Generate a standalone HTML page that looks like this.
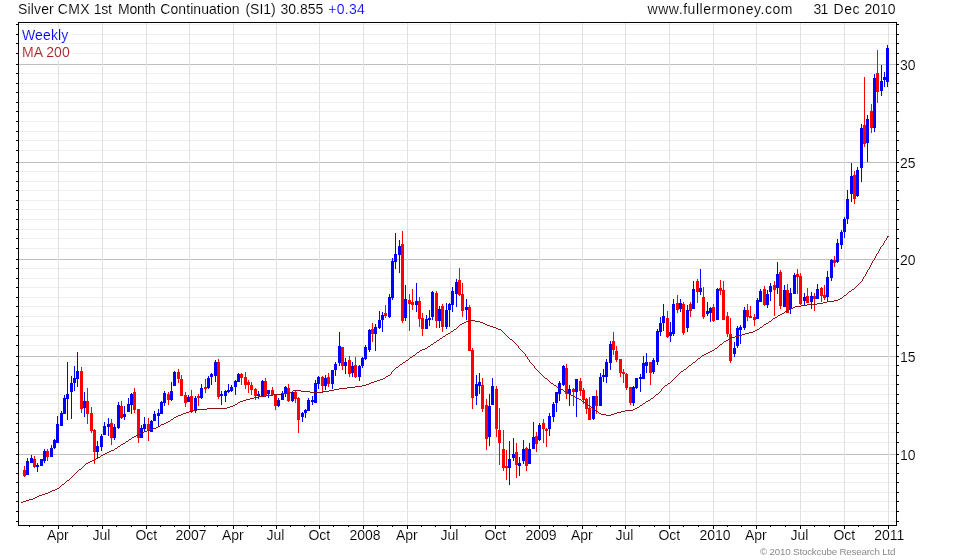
<!DOCTYPE html>
<html><head><meta charset="utf-8"><title>Silver CMX</title>
<style>html,body{margin:0;padding:0;background:#fff}body{width:980px;height:560px;overflow:hidden}</style></head>
<body>
<svg width="980" height="560" viewBox="0 0 980 560" style="display:block">
<defs><filter id="gs" x="0" y="0" width="100%" height="100%" filterUnits="userSpaceOnUse" color-interpolation-filters="sRGB"><feOffset dx="0" dy="0"/></filter></defs>
<rect width="980" height="560" fill="#fff"/>
<g shape-rendering="crispEdges">
<rect x="19" y="24" width="877" height="1" fill="#eeeeee"/>
<rect x="19" y="34" width="877" height="1" fill="#eeeeee"/>
<rect x="19" y="43" width="877" height="1" fill="#eeeeee"/>
<rect x="19" y="53" width="877" height="1" fill="#eeeeee"/>
<rect x="19" y="73" width="877" height="1" fill="#eeeeee"/>
<rect x="19" y="83" width="877" height="1" fill="#eeeeee"/>
<rect x="19" y="92" width="877" height="1" fill="#eeeeee"/>
<rect x="19" y="102" width="877" height="1" fill="#eeeeee"/>
<rect x="19" y="111" width="877" height="1" fill="#eeeeee"/>
<rect x="19" y="121" width="877" height="1" fill="#eeeeee"/>
<rect x="19" y="131" width="877" height="1" fill="#eeeeee"/>
<rect x="19" y="140" width="877" height="1" fill="#eeeeee"/>
<rect x="19" y="150" width="877" height="1" fill="#eeeeee"/>
<rect x="19" y="171" width="877" height="1" fill="#eeeeee"/>
<rect x="19" y="181" width="877" height="1" fill="#eeeeee"/>
<rect x="19" y="190" width="877" height="1" fill="#eeeeee"/>
<rect x="19" y="200" width="877" height="1" fill="#eeeeee"/>
<rect x="19" y="209" width="877" height="1" fill="#eeeeee"/>
<rect x="19" y="219" width="877" height="1" fill="#eeeeee"/>
<rect x="19" y="229" width="877" height="1" fill="#eeeeee"/>
<rect x="19" y="238" width="877" height="1" fill="#eeeeee"/>
<rect x="19" y="248" width="877" height="1" fill="#eeeeee"/>
<rect x="19" y="268" width="877" height="1" fill="#eeeeee"/>
<rect x="19" y="278" width="877" height="1" fill="#eeeeee"/>
<rect x="19" y="287" width="877" height="1" fill="#eeeeee"/>
<rect x="19" y="297" width="877" height="1" fill="#eeeeee"/>
<rect x="19" y="306" width="877" height="1" fill="#eeeeee"/>
<rect x="19" y="316" width="877" height="1" fill="#eeeeee"/>
<rect x="19" y="326" width="877" height="1" fill="#eeeeee"/>
<rect x="19" y="335" width="877" height="1" fill="#eeeeee"/>
<rect x="19" y="345" width="877" height="1" fill="#eeeeee"/>
<rect x="19" y="365" width="877" height="1" fill="#eeeeee"/>
<rect x="19" y="375" width="877" height="1" fill="#eeeeee"/>
<rect x="19" y="384" width="877" height="1" fill="#eeeeee"/>
<rect x="19" y="394" width="877" height="1" fill="#eeeeee"/>
<rect x="19" y="403" width="877" height="1" fill="#eeeeee"/>
<rect x="19" y="413" width="877" height="1" fill="#eeeeee"/>
<rect x="19" y="423" width="877" height="1" fill="#eeeeee"/>
<rect x="19" y="432" width="877" height="1" fill="#eeeeee"/>
<rect x="19" y="442" width="877" height="1" fill="#eeeeee"/>
<rect x="19" y="463" width="877" height="1" fill="#eeeeee"/>
<rect x="19" y="473" width="877" height="1" fill="#eeeeee"/>
<rect x="19" y="482" width="877" height="1" fill="#eeeeee"/>
<rect x="19" y="492" width="877" height="1" fill="#eeeeee"/>
<rect x="19" y="501" width="877" height="1" fill="#eeeeee"/>
<rect x="19" y="511" width="877" height="1" fill="#eeeeee"/>
<rect x="19" y="521" width="877" height="1" fill="#eeeeee"/>
<rect x="19" y="64" width="877" height="1" fill="#bebebe"/>
<rect x="19" y="162" width="877" height="1" fill="#bebebe"/>
<rect x="19" y="259" width="877" height="1" fill="#bebebe"/>
<rect x="19" y="356" width="877" height="1" fill="#bebebe"/>
<rect x="19" y="454" width="877" height="1" fill="#bebebe"/>
<rect x="58" y="23" width="1" height="502" fill="#e1e1e1"/>
<rect x="102" y="23" width="1" height="502" fill="#e1e1e1"/>
<rect x="146" y="23" width="1" height="502" fill="#e1e1e1"/>
<rect x="189" y="23" width="1" height="502" fill="#e1e1e1"/>
<rect x="233" y="23" width="1" height="502" fill="#e1e1e1"/>
<rect x="276" y="23" width="1" height="502" fill="#e1e1e1"/>
<rect x="319" y="23" width="1" height="502" fill="#e1e1e1"/>
<rect x="363" y="23" width="1" height="502" fill="#e1e1e1"/>
<rect x="407" y="23" width="1" height="502" fill="#e1e1e1"/>
<rect x="450" y="23" width="1" height="502" fill="#e1e1e1"/>
<rect x="495" y="23" width="1" height="502" fill="#e1e1e1"/>
<rect x="539" y="23" width="1" height="502" fill="#e1e1e1"/>
<rect x="582" y="23" width="1" height="502" fill="#e1e1e1"/>
<rect x="625" y="23" width="1" height="502" fill="#e1e1e1"/>
<rect x="669" y="23" width="1" height="502" fill="#e1e1e1"/>
<rect x="713" y="23" width="1" height="502" fill="#e1e1e1"/>
<rect x="756" y="23" width="1" height="502" fill="#e1e1e1"/>
<rect x="800" y="23" width="1" height="502" fill="#e1e1e1"/>
<rect x="844" y="23" width="1" height="502" fill="#e1e1e1"/>
<rect x="888" y="23" width="1" height="502" fill="#e1e1e1"/>
</g>
<rect x="19" y="28" width="52" height="15" fill="#fff"/>
<rect x="19" y="45" width="54" height="15" fill="#fff"/>
<g shape-rendering="crispEdges">
<rect x="24" y="466" width="1" height="11" fill="#ff0000"/>
<rect x="23" y="470" width="3" height="6" fill="#ff0000"/>
<rect x="27" y="458" width="1" height="17" fill="#0000ff"/>
<rect x="26" y="461" width="3" height="14" fill="#0000ff"/>
<rect x="31" y="455" width="1" height="8" fill="#0000ff"/>
<rect x="30" y="458" width="3" height="5" fill="#0000ff"/>
<rect x="34" y="456" width="1" height="12" fill="#ff0000"/>
<rect x="33" y="459" width="3" height="8" fill="#ff0000"/>
<rect x="37" y="463" width="1" height="9" fill="#0000ff"/>
<rect x="36" y="465" width="3" height="2" fill="#0000ff"/>
<rect x="41" y="459" width="1" height="7" fill="#0000ff"/>
<rect x="40" y="459" width="3" height="7" fill="#0000ff"/>
<rect x="44" y="449" width="1" height="14" fill="#0000ff"/>
<rect x="43" y="451" width="3" height="10" fill="#0000ff"/>
<rect x="47" y="449" width="1" height="12" fill="#ff0000"/>
<rect x="46" y="451" width="3" height="6" fill="#ff0000"/>
<rect x="51" y="445" width="1" height="12" fill="#0000ff"/>
<rect x="50" y="448" width="3" height="9" fill="#0000ff"/>
<rect x="54" y="439" width="1" height="10" fill="#0000ff"/>
<rect x="53" y="440" width="3" height="8" fill="#0000ff"/>
<rect x="57" y="416" width="1" height="27" fill="#0000ff"/>
<rect x="56" y="424" width="3" height="19" fill="#0000ff"/>
<rect x="61" y="411" width="1" height="15" fill="#0000ff"/>
<rect x="60" y="413" width="3" height="13" fill="#0000ff"/>
<rect x="64" y="395" width="1" height="19" fill="#0000ff"/>
<rect x="63" y="398" width="3" height="16" fill="#0000ff"/>
<rect x="67" y="362" width="1" height="58" fill="#0000ff"/>
<rect x="66" y="394" width="3" height="5" fill="#0000ff"/>
<rect x="71" y="376" width="1" height="43" fill="#0000ff"/>
<rect x="70" y="383" width="3" height="9" fill="#0000ff"/>
<rect x="74" y="366" width="1" height="25" fill="#0000ff"/>
<rect x="73" y="378" width="3" height="5" fill="#0000ff"/>
<rect x="77" y="352" width="1" height="35" fill="#0000ff"/>
<rect x="76" y="371" width="3" height="8" fill="#0000ff"/>
<rect x="81" y="367" width="1" height="46" fill="#ff0000"/>
<rect x="80" y="371" width="3" height="38" fill="#ff0000"/>
<rect x="84" y="392" width="1" height="25" fill="#0000ff"/>
<rect x="83" y="401" width="3" height="7" fill="#0000ff"/>
<rect x="87" y="388" width="1" height="36" fill="#ff0000"/>
<rect x="86" y="401" width="3" height="13" fill="#ff0000"/>
<rect x="91" y="407" width="1" height="26" fill="#ff0000"/>
<rect x="90" y="413" width="3" height="18" fill="#ff0000"/>
<rect x="94" y="429" width="1" height="35" fill="#ff0000"/>
<rect x="93" y="430" width="3" height="22" fill="#ff0000"/>
<rect x="97" y="441" width="1" height="17" fill="#0000ff"/>
<rect x="96" y="446" width="3" height="6" fill="#0000ff"/>
<rect x="101" y="434" width="1" height="17" fill="#0000ff"/>
<rect x="100" y="436" width="3" height="11" fill="#0000ff"/>
<rect x="104" y="422" width="1" height="13" fill="#0000ff"/>
<rect x="103" y="426" width="3" height="9" fill="#0000ff"/>
<rect x="108" y="418" width="1" height="18" fill="#0000ff"/>
<rect x="107" y="424" width="3" height="3" fill="#0000ff"/>
<rect x="111" y="419" width="1" height="26" fill="#ff0000"/>
<rect x="110" y="423" width="3" height="15" fill="#ff0000"/>
<rect x="114" y="424" width="1" height="16" fill="#0000ff"/>
<rect x="113" y="427" width="3" height="11" fill="#0000ff"/>
<rect x="118" y="402" width="1" height="27" fill="#0000ff"/>
<rect x="117" y="405" width="3" height="23" fill="#0000ff"/>
<rect x="121" y="401" width="1" height="18" fill="#ff0000"/>
<rect x="120" y="406" width="3" height="12" fill="#ff0000"/>
<rect x="124" y="406" width="1" height="14" fill="#0000ff"/>
<rect x="123" y="414" width="3" height="3" fill="#0000ff"/>
<rect x="128" y="398" width="1" height="14" fill="#0000ff"/>
<rect x="127" y="404" width="3" height="8" fill="#0000ff"/>
<rect x="131" y="393" width="1" height="21" fill="#0000ff"/>
<rect x="130" y="394" width="3" height="11" fill="#0000ff"/>
<rect x="134" y="388" width="1" height="25" fill="#ff0000"/>
<rect x="133" y="392" width="3" height="18" fill="#ff0000"/>
<rect x="138" y="409" width="1" height="34" fill="#ff0000"/>
<rect x="137" y="409" width="3" height="29" fill="#ff0000"/>
<rect x="141" y="425" width="1" height="13" fill="#0000ff"/>
<rect x="140" y="428" width="3" height="10" fill="#0000ff"/>
<rect x="144" y="417" width="1" height="15" fill="#0000ff"/>
<rect x="143" y="424" width="3" height="5" fill="#0000ff"/>
<rect x="148" y="418" width="1" height="23" fill="#ff0000"/>
<rect x="147" y="424" width="3" height="7" fill="#ff0000"/>
<rect x="151" y="420" width="1" height="12" fill="#0000ff"/>
<rect x="150" y="421" width="3" height="11" fill="#0000ff"/>
<rect x="154" y="411" width="1" height="10" fill="#0000ff"/>
<rect x="153" y="414" width="3" height="7" fill="#0000ff"/>
<rect x="158" y="409" width="1" height="18" fill="#0000ff"/>
<rect x="157" y="413" width="3" height="3" fill="#0000ff"/>
<rect x="161" y="401" width="1" height="13" fill="#0000ff"/>
<rect x="160" y="402" width="3" height="12" fill="#0000ff"/>
<rect x="164" y="391" width="1" height="15" fill="#0000ff"/>
<rect x="163" y="393" width="3" height="10" fill="#0000ff"/>
<rect x="168" y="392" width="1" height="13" fill="#ff0000"/>
<rect x="167" y="394" width="3" height="6" fill="#ff0000"/>
<rect x="171" y="382" width="1" height="19" fill="#0000ff"/>
<rect x="170" y="391" width="3" height="9" fill="#0000ff"/>
<rect x="174" y="371" width="1" height="15" fill="#0000ff"/>
<rect x="173" y="372" width="3" height="14" fill="#0000ff"/>
<rect x="178" y="369" width="1" height="14" fill="#ff0000"/>
<rect x="177" y="372" width="3" height="7" fill="#ff0000"/>
<rect x="181" y="375" width="1" height="21" fill="#ff0000"/>
<rect x="180" y="379" width="3" height="17" fill="#ff0000"/>
<rect x="185" y="392" width="1" height="15" fill="#ff0000"/>
<rect x="184" y="395" width="3" height="8" fill="#ff0000"/>
<rect x="188" y="395" width="1" height="7" fill="#0000ff"/>
<rect x="187" y="397" width="3" height="5" fill="#0000ff"/>
<rect x="191" y="390" width="1" height="23" fill="#ff0000"/>
<rect x="190" y="396" width="3" height="15" fill="#ff0000"/>
<rect x="195" y="396" width="1" height="17" fill="#0000ff"/>
<rect x="194" y="398" width="3" height="12" fill="#0000ff"/>
<rect x="198" y="394" width="1" height="12" fill="#ff0000"/>
<rect x="197" y="396" width="3" height="2" fill="#ff0000"/>
<rect x="201" y="384" width="1" height="15" fill="#0000ff"/>
<rect x="200" y="388" width="3" height="10" fill="#0000ff"/>
<rect x="205" y="379" width="1" height="14" fill="#ff0000"/>
<rect x="204" y="387" width="3" height="2" fill="#ff0000"/>
<rect x="208" y="376" width="1" height="13" fill="#0000ff"/>
<rect x="207" y="378" width="3" height="10" fill="#0000ff"/>
<rect x="211" y="373" width="1" height="12" fill="#0000ff"/>
<rect x="210" y="374" width="3" height="3" fill="#0000ff"/>
<rect x="215" y="360" width="1" height="22" fill="#0000ff"/>
<rect x="214" y="362" width="3" height="14" fill="#0000ff"/>
<rect x="218" y="359" width="1" height="40" fill="#ff0000"/>
<rect x="217" y="362" width="3" height="35" fill="#ff0000"/>
<rect x="221" y="391" width="1" height="14" fill="#0000ff"/>
<rect x="220" y="394" width="3" height="2" fill="#0000ff"/>
<rect x="225" y="390" width="1" height="12" fill="#0000ff"/>
<rect x="224" y="391" width="3" height="5" fill="#0000ff"/>
<rect x="228" y="384" width="1" height="9" fill="#0000ff"/>
<rect x="227" y="390" width="3" height="2" fill="#0000ff"/>
<rect x="231" y="385" width="1" height="7" fill="#0000ff"/>
<rect x="230" y="387" width="3" height="4" fill="#0000ff"/>
<rect x="235" y="380" width="1" height="15" fill="#0000ff"/>
<rect x="234" y="381" width="3" height="6" fill="#0000ff"/>
<rect x="238" y="373" width="1" height="9" fill="#0000ff"/>
<rect x="237" y="374" width="3" height="8" fill="#0000ff"/>
<rect x="241" y="373" width="1" height="12" fill="#ff0000"/>
<rect x="240" y="374" width="3" height="4" fill="#ff0000"/>
<rect x="245" y="372" width="1" height="17" fill="#ff0000"/>
<rect x="244" y="377" width="3" height="8" fill="#ff0000"/>
<rect x="248" y="380" width="1" height="13" fill="#ff0000"/>
<rect x="247" y="382" width="3" height="3" fill="#ff0000"/>
<rect x="251" y="382" width="1" height="13" fill="#ff0000"/>
<rect x="250" y="385" width="3" height="5" fill="#ff0000"/>
<rect x="255" y="388" width="1" height="12" fill="#ff0000"/>
<rect x="254" y="389" width="3" height="7" fill="#ff0000"/>
<rect x="258" y="391" width="1" height="8" fill="#0000ff"/>
<rect x="257" y="394" width="3" height="2" fill="#0000ff"/>
<rect x="262" y="380" width="1" height="16" fill="#0000ff"/>
<rect x="261" y="381" width="3" height="15" fill="#0000ff"/>
<rect x="265" y="378" width="1" height="18" fill="#ff0000"/>
<rect x="264" y="381" width="3" height="15" fill="#ff0000"/>
<rect x="268" y="390" width="1" height="8" fill="#0000ff"/>
<rect x="267" y="390" width="3" height="4" fill="#0000ff"/>
<rect x="272" y="387" width="1" height="9" fill="#ff0000"/>
<rect x="271" y="390" width="3" height="5" fill="#ff0000"/>
<rect x="275" y="394" width="1" height="16" fill="#ff0000"/>
<rect x="274" y="395" width="3" height="11" fill="#ff0000"/>
<rect x="278" y="398" width="1" height="9" fill="#0000ff"/>
<rect x="277" y="400" width="3" height="6" fill="#0000ff"/>
<rect x="282" y="391" width="1" height="9" fill="#0000ff"/>
<rect x="281" y="393" width="3" height="7" fill="#0000ff"/>
<rect x="285" y="386" width="1" height="11" fill="#0000ff"/>
<rect x="284" y="387" width="3" height="6" fill="#0000ff"/>
<rect x="288" y="384" width="1" height="18" fill="#ff0000"/>
<rect x="287" y="388" width="3" height="13" fill="#ff0000"/>
<rect x="292" y="391" width="1" height="11" fill="#0000ff"/>
<rect x="291" y="392" width="3" height="9" fill="#0000ff"/>
<rect x="295" y="391" width="1" height="12" fill="#ff0000"/>
<rect x="294" y="392" width="3" height="7" fill="#ff0000"/>
<rect x="298" y="397" width="1" height="36" fill="#ff0000"/>
<rect x="297" y="398" width="3" height="22" fill="#ff0000"/>
<rect x="302" y="412" width="1" height="10" fill="#0000ff"/>
<rect x="301" y="413" width="3" height="4" fill="#0000ff"/>
<rect x="305" y="409" width="1" height="9" fill="#0000ff"/>
<rect x="304" y="410" width="3" height="3" fill="#0000ff"/>
<rect x="308" y="398" width="1" height="13" fill="#0000ff"/>
<rect x="307" y="400" width="3" height="11" fill="#0000ff"/>
<rect x="312" y="396" width="1" height="9" fill="#0000ff"/>
<rect x="311" y="400" width="3" height="2" fill="#0000ff"/>
<rect x="315" y="380" width="1" height="23" fill="#0000ff"/>
<rect x="314" y="383" width="3" height="20" fill="#0000ff"/>
<rect x="318" y="376" width="1" height="13" fill="#0000ff"/>
<rect x="317" y="377" width="3" height="7" fill="#0000ff"/>
<rect x="322" y="376" width="1" height="16" fill="#ff0000"/>
<rect x="321" y="377" width="3" height="9" fill="#ff0000"/>
<rect x="325" y="375" width="1" height="15" fill="#0000ff"/>
<rect x="324" y="378" width="3" height="8" fill="#0000ff"/>
<rect x="328" y="373" width="1" height="14" fill="#ff0000"/>
<rect x="327" y="377" width="3" height="7" fill="#ff0000"/>
<rect x="332" y="370" width="1" height="19" fill="#0000ff"/>
<rect x="331" y="370" width="3" height="14" fill="#0000ff"/>
<rect x="335" y="362" width="1" height="14" fill="#0000ff"/>
<rect x="334" y="364" width="3" height="6" fill="#0000ff"/>
<rect x="339" y="332" width="1" height="34" fill="#0000ff"/>
<rect x="338" y="346" width="3" height="17" fill="#0000ff"/>
<rect x="342" y="347" width="1" height="23" fill="#ff0000"/>
<rect x="341" y="347" width="3" height="19" fill="#ff0000"/>
<rect x="345" y="358" width="1" height="16" fill="#0000ff"/>
<rect x="344" y="362" width="3" height="4" fill="#0000ff"/>
<rect x="349" y="356" width="1" height="21" fill="#ff0000"/>
<rect x="348" y="360" width="3" height="14" fill="#ff0000"/>
<rect x="352" y="362" width="1" height="15" fill="#0000ff"/>
<rect x="351" y="366" width="3" height="7" fill="#0000ff"/>
<rect x="355" y="357" width="1" height="21" fill="#ff0000"/>
<rect x="354" y="365" width="3" height="12" fill="#ff0000"/>
<rect x="359" y="365" width="1" height="16" fill="#0000ff"/>
<rect x="358" y="366" width="3" height="11" fill="#0000ff"/>
<rect x="362" y="357" width="1" height="11" fill="#0000ff"/>
<rect x="361" y="358" width="3" height="8" fill="#0000ff"/>
<rect x="365" y="345" width="1" height="15" fill="#0000ff"/>
<rect x="364" y="347" width="3" height="12" fill="#0000ff"/>
<rect x="369" y="329" width="1" height="23" fill="#0000ff"/>
<rect x="368" y="330" width="3" height="20" fill="#0000ff"/>
<rect x="372" y="323" width="1" height="19" fill="#ff0000"/>
<rect x="371" y="329" width="3" height="5" fill="#ff0000"/>
<rect x="375" y="324" width="1" height="27" fill="#0000ff"/>
<rect x="374" y="327" width="3" height="7" fill="#0000ff"/>
<rect x="379" y="311" width="1" height="18" fill="#0000ff"/>
<rect x="378" y="320" width="3" height="8" fill="#0000ff"/>
<rect x="382" y="312" width="1" height="20" fill="#0000ff"/>
<rect x="381" y="315" width="3" height="5" fill="#0000ff"/>
<rect x="385" y="305" width="1" height="13" fill="#ff0000"/>
<rect x="384" y="313" width="3" height="3" fill="#ff0000"/>
<rect x="389" y="294" width="1" height="24" fill="#0000ff"/>
<rect x="388" y="297" width="3" height="20" fill="#0000ff"/>
<rect x="392" y="258" width="1" height="42" fill="#0000ff"/>
<rect x="391" y="261" width="3" height="37" fill="#0000ff"/>
<rect x="395" y="233" width="1" height="36" fill="#0000ff"/>
<rect x="394" y="254" width="3" height="8" fill="#0000ff"/>
<rect x="399" y="240" width="1" height="33" fill="#0000ff"/>
<rect x="398" y="246" width="3" height="9" fill="#0000ff"/>
<rect x="402" y="231" width="1" height="92" fill="#ff0000"/>
<rect x="401" y="244" width="3" height="77" fill="#ff0000"/>
<rect x="405" y="285" width="1" height="36" fill="#0000ff"/>
<rect x="404" y="299" width="3" height="19" fill="#0000ff"/>
<rect x="409" y="294" width="1" height="37" fill="#ff0000"/>
<rect x="408" y="300" width="3" height="4" fill="#ff0000"/>
<rect x="412" y="289" width="1" height="21" fill="#ff0000"/>
<rect x="411" y="302" width="3" height="3" fill="#ff0000"/>
<rect x="416" y="283" width="1" height="29" fill="#0000ff"/>
<rect x="415" y="301" width="3" height="4" fill="#0000ff"/>
<rect x="419" y="297" width="1" height="30" fill="#ff0000"/>
<rect x="418" y="301" width="3" height="18" fill="#ff0000"/>
<rect x="422" y="313" width="1" height="23" fill="#ff0000"/>
<rect x="421" y="318" width="3" height="11" fill="#ff0000"/>
<rect x="426" y="315" width="1" height="14" fill="#0000ff"/>
<rect x="425" y="319" width="3" height="10" fill="#0000ff"/>
<rect x="429" y="310" width="1" height="16" fill="#0000ff"/>
<rect x="428" y="318" width="3" height="2" fill="#0000ff"/>
<rect x="432" y="291" width="1" height="29" fill="#0000ff"/>
<rect x="431" y="292" width="3" height="25" fill="#0000ff"/>
<rect x="436" y="291" width="1" height="37" fill="#ff0000"/>
<rect x="435" y="293" width="3" height="28" fill="#ff0000"/>
<rect x="439" y="306" width="1" height="22" fill="#0000ff"/>
<rect x="438" y="309" width="3" height="12" fill="#0000ff"/>
<rect x="442" y="304" width="1" height="28" fill="#ff0000"/>
<rect x="441" y="306" width="3" height="21" fill="#ff0000"/>
<rect x="446" y="303" width="1" height="26" fill="#0000ff"/>
<rect x="445" y="310" width="3" height="17" fill="#0000ff"/>
<rect x="449" y="303" width="1" height="24" fill="#0000ff"/>
<rect x="448" y="304" width="3" height="6" fill="#0000ff"/>
<rect x="452" y="287" width="1" height="25" fill="#0000ff"/>
<rect x="451" y="291" width="3" height="14" fill="#0000ff"/>
<rect x="456" y="279" width="1" height="28" fill="#0000ff"/>
<rect x="455" y="282" width="3" height="12" fill="#0000ff"/>
<rect x="459" y="268" width="1" height="28" fill="#ff0000"/>
<rect x="458" y="280" width="3" height="15" fill="#ff0000"/>
<rect x="462" y="283" width="1" height="34" fill="#ff0000"/>
<rect x="461" y="294" width="3" height="17" fill="#ff0000"/>
<rect x="466" y="299" width="1" height="21" fill="#0000ff"/>
<rect x="465" y="307" width="3" height="3" fill="#0000ff"/>
<rect x="469" y="305" width="1" height="46" fill="#ff0000"/>
<rect x="468" y="307" width="3" height="44" fill="#ff0000"/>
<rect x="472" y="348" width="1" height="61" fill="#ff0000"/>
<rect x="471" y="350" width="3" height="48" fill="#ff0000"/>
<rect x="476" y="375" width="1" height="30" fill="#0000ff"/>
<rect x="475" y="384" width="3" height="12" fill="#0000ff"/>
<rect x="479" y="373" width="1" height="21" fill="#0000ff"/>
<rect x="478" y="382" width="3" height="4" fill="#0000ff"/>
<rect x="482" y="378" width="1" height="34" fill="#ff0000"/>
<rect x="481" y="385" width="3" height="24" fill="#ff0000"/>
<rect x="486" y="399" width="1" height="51" fill="#ff0000"/>
<rect x="485" y="405" width="3" height="34" fill="#ff0000"/>
<rect x="489" y="394" width="1" height="52" fill="#0000ff"/>
<rect x="488" y="406" width="3" height="31" fill="#0000ff"/>
<rect x="492" y="378" width="1" height="27" fill="#0000ff"/>
<rect x="491" y="386" width="3" height="19" fill="#0000ff"/>
<rect x="496" y="386" width="1" height="51" fill="#ff0000"/>
<rect x="495" y="389" width="3" height="40" fill="#ff0000"/>
<rect x="499" y="408" width="1" height="57" fill="#ff0000"/>
<rect x="498" y="430" width="3" height="13" fill="#ff0000"/>
<rect x="503" y="430" width="1" height="41" fill="#ff0000"/>
<rect x="502" y="449" width="3" height="19" fill="#ff0000"/>
<rect x="506" y="450" width="1" height="30" fill="#ff0000"/>
<rect x="505" y="466" width="3" height="2" fill="#ff0000"/>
<rect x="509" y="441" width="1" height="44" fill="#0000ff"/>
<rect x="508" y="459" width="3" height="9" fill="#0000ff"/>
<rect x="513" y="438" width="1" height="23" fill="#0000ff"/>
<rect x="512" y="454" width="3" height="4" fill="#0000ff"/>
<rect x="516" y="443" width="1" height="35" fill="#ff0000"/>
<rect x="515" y="452" width="3" height="13" fill="#ff0000"/>
<rect x="519" y="457" width="1" height="19" fill="#0000ff"/>
<rect x="518" y="463" width="3" height="3" fill="#0000ff"/>
<rect x="523" y="440" width="1" height="24" fill="#0000ff"/>
<rect x="522" y="449" width="3" height="12" fill="#0000ff"/>
<rect x="526" y="447" width="1" height="24" fill="#ff0000"/>
<rect x="525" y="448" width="3" height="18" fill="#ff0000"/>
<rect x="529" y="443" width="1" height="21" fill="#0000ff"/>
<rect x="528" y="449" width="3" height="15" fill="#0000ff"/>
<rect x="533" y="422" width="1" height="27" fill="#0000ff"/>
<rect x="532" y="437" width="3" height="12" fill="#0000ff"/>
<rect x="536" y="432" width="1" height="20" fill="#ff0000"/>
<rect x="535" y="436" width="3" height="8" fill="#ff0000"/>
<rect x="539" y="423" width="1" height="18" fill="#0000ff"/>
<rect x="538" y="425" width="3" height="15" fill="#0000ff"/>
<rect x="543" y="419" width="1" height="24" fill="#ff0000"/>
<rect x="542" y="423" width="3" height="6" fill="#ff0000"/>
<rect x="546" y="428" width="1" height="19" fill="#ff0000"/>
<rect x="545" y="429" width="3" height="2" fill="#ff0000"/>
<rect x="549" y="413" width="1" height="23" fill="#0000ff"/>
<rect x="548" y="416" width="3" height="13" fill="#0000ff"/>
<rect x="553" y="402" width="1" height="20" fill="#0000ff"/>
<rect x="552" y="404" width="3" height="13" fill="#0000ff"/>
<rect x="556" y="392" width="1" height="20" fill="#0000ff"/>
<rect x="555" y="392" width="3" height="11" fill="#0000ff"/>
<rect x="559" y="381" width="1" height="20" fill="#0000ff"/>
<rect x="558" y="383" width="3" height="11" fill="#0000ff"/>
<rect x="563" y="365" width="1" height="21" fill="#0000ff"/>
<rect x="562" y="366" width="3" height="19" fill="#0000ff"/>
<rect x="566" y="364" width="1" height="35" fill="#ff0000"/>
<rect x="565" y="368" width="3" height="26" fill="#ff0000"/>
<rect x="569" y="385" width="1" height="21" fill="#0000ff"/>
<rect x="568" y="389" width="3" height="5" fill="#0000ff"/>
<rect x="573" y="388" width="1" height="18" fill="#ff0000"/>
<rect x="572" y="389" width="3" height="3" fill="#ff0000"/>
<rect x="576" y="379" width="1" height="38" fill="#0000ff"/>
<rect x="575" y="379" width="3" height="13" fill="#0000ff"/>
<rect x="580" y="378" width="1" height="18" fill="#ff0000"/>
<rect x="579" y="381" width="3" height="10" fill="#ff0000"/>
<rect x="583" y="388" width="1" height="16" fill="#ff0000"/>
<rect x="582" y="390" width="3" height="10" fill="#ff0000"/>
<rect x="586" y="398" width="1" height="16" fill="#ff0000"/>
<rect x="585" y="399" width="3" height="10" fill="#ff0000"/>
<rect x="589" y="397" width="1" height="23" fill="#ff0000"/>
<rect x="588" y="408" width="3" height="12" fill="#ff0000"/>
<rect x="593" y="396" width="1" height="24" fill="#0000ff"/>
<rect x="592" y="396" width="3" height="23" fill="#0000ff"/>
<rect x="596" y="390" width="1" height="24" fill="#ff0000"/>
<rect x="595" y="396" width="3" height="10" fill="#ff0000"/>
<rect x="600" y="373" width="1" height="33" fill="#0000ff"/>
<rect x="599" y="377" width="3" height="29" fill="#0000ff"/>
<rect x="603" y="369" width="1" height="13" fill="#0000ff"/>
<rect x="602" y="375" width="3" height="2" fill="#0000ff"/>
<rect x="606" y="359" width="1" height="24" fill="#0000ff"/>
<rect x="605" y="362" width="3" height="15" fill="#0000ff"/>
<rect x="610" y="341" width="1" height="29" fill="#0000ff"/>
<rect x="609" y="344" width="3" height="19" fill="#0000ff"/>
<rect x="613" y="332" width="1" height="23" fill="#ff0000"/>
<rect x="612" y="341" width="3" height="9" fill="#ff0000"/>
<rect x="616" y="346" width="1" height="16" fill="#ff0000"/>
<rect x="615" y="351" width="3" height="9" fill="#ff0000"/>
<rect x="620" y="359" width="1" height="18" fill="#ff0000"/>
<rect x="619" y="359" width="3" height="14" fill="#ff0000"/>
<rect x="623" y="369" width="1" height="14" fill="#ff0000"/>
<rect x="622" y="372" width="3" height="2" fill="#ff0000"/>
<rect x="626" y="373" width="1" height="17" fill="#ff0000"/>
<rect x="625" y="374" width="3" height="14" fill="#ff0000"/>
<rect x="630" y="387" width="1" height="18" fill="#ff0000"/>
<rect x="629" y="387" width="3" height="16" fill="#ff0000"/>
<rect x="633" y="386" width="1" height="20" fill="#0000ff"/>
<rect x="632" y="387" width="3" height="16" fill="#0000ff"/>
<rect x="636" y="378" width="1" height="11" fill="#0000ff"/>
<rect x="635" y="378" width="3" height="10" fill="#0000ff"/>
<rect x="640" y="374" width="1" height="18" fill="#0000ff"/>
<rect x="639" y="377" width="3" height="2" fill="#0000ff"/>
<rect x="643" y="356" width="1" height="23" fill="#0000ff"/>
<rect x="642" y="363" width="3" height="16" fill="#0000ff"/>
<rect x="646" y="353" width="1" height="20" fill="#0000ff"/>
<rect x="645" y="362" width="3" height="4" fill="#0000ff"/>
<rect x="650" y="362" width="1" height="23" fill="#ff0000"/>
<rect x="649" y="362" width="3" height="11" fill="#ff0000"/>
<rect x="653" y="358" width="1" height="16" fill="#0000ff"/>
<rect x="652" y="360" width="3" height="12" fill="#0000ff"/>
<rect x="657" y="329" width="1" height="36" fill="#0000ff"/>
<rect x="656" y="331" width="3" height="31" fill="#0000ff"/>
<rect x="660" y="317" width="1" height="19" fill="#0000ff"/>
<rect x="659" y="323" width="3" height="9" fill="#0000ff"/>
<rect x="663" y="304" width="1" height="27" fill="#0000ff"/>
<rect x="662" y="316" width="3" height="7" fill="#0000ff"/>
<rect x="667" y="311" width="1" height="27" fill="#ff0000"/>
<rect x="666" y="318" width="3" height="19" fill="#ff0000"/>
<rect x="670" y="322" width="1" height="20" fill="#0000ff"/>
<rect x="669" y="332" width="3" height="4" fill="#0000ff"/>
<rect x="673" y="299" width="1" height="37" fill="#0000ff"/>
<rect x="672" y="304" width="3" height="30" fill="#0000ff"/>
<rect x="677" y="295" width="1" height="18" fill="#ff0000"/>
<rect x="676" y="303" width="3" height="7" fill="#ff0000"/>
<rect x="680" y="299" width="1" height="13" fill="#0000ff"/>
<rect x="679" y="303" width="3" height="6" fill="#0000ff"/>
<rect x="683" y="302" width="1" height="33" fill="#ff0000"/>
<rect x="682" y="304" width="3" height="29" fill="#ff0000"/>
<rect x="687" y="305" width="1" height="27" fill="#0000ff"/>
<rect x="686" y="310" width="3" height="18" fill="#0000ff"/>
<rect x="690" y="302" width="1" height="15" fill="#ff0000"/>
<rect x="689" y="304" width="3" height="7" fill="#ff0000"/>
<rect x="693" y="281" width="1" height="28" fill="#0000ff"/>
<rect x="692" y="289" width="3" height="20" fill="#0000ff"/>
<rect x="697" y="279" width="1" height="24" fill="#ff0000"/>
<rect x="696" y="281" width="3" height="11" fill="#ff0000"/>
<rect x="700" y="269" width="1" height="26" fill="#0000ff"/>
<rect x="699" y="288" width="3" height="4" fill="#0000ff"/>
<rect x="703" y="287" width="1" height="32" fill="#ff0000"/>
<rect x="702" y="297" width="3" height="20" fill="#ff0000"/>
<rect x="707" y="302" width="1" height="14" fill="#0000ff"/>
<rect x="706" y="311" width="3" height="3" fill="#0000ff"/>
<rect x="710" y="307" width="1" height="15" fill="#0000ff"/>
<rect x="709" y="308" width="3" height="5" fill="#0000ff"/>
<rect x="713" y="304" width="1" height="18" fill="#ff0000"/>
<rect x="712" y="307" width="3" height="14" fill="#ff0000"/>
<rect x="717" y="288" width="1" height="32" fill="#0000ff"/>
<rect x="716" y="289" width="3" height="31" fill="#0000ff"/>
<rect x="720" y="280" width="1" height="15" fill="#ff0000"/>
<rect x="719" y="288" width="3" height="3" fill="#ff0000"/>
<rect x="723" y="281" width="1" height="39" fill="#ff0000"/>
<rect x="722" y="290" width="3" height="30" fill="#ff0000"/>
<rect x="727" y="312" width="1" height="25" fill="#ff0000"/>
<rect x="726" y="316" width="3" height="18" fill="#ff0000"/>
<rect x="730" y="318" width="1" height="45" fill="#ff0000"/>
<rect x="729" y="334" width="3" height="27" fill="#ff0000"/>
<rect x="734" y="342" width="1" height="15" fill="#0000ff"/>
<rect x="733" y="348" width="3" height="6" fill="#0000ff"/>
<rect x="737" y="326" width="1" height="22" fill="#0000ff"/>
<rect x="736" y="328" width="3" height="18" fill="#0000ff"/>
<rect x="740" y="325" width="1" height="19" fill="#0000ff"/>
<rect x="739" y="327" width="3" height="3" fill="#0000ff"/>
<rect x="744" y="307" width="1" height="23" fill="#0000ff"/>
<rect x="743" y="310" width="3" height="18" fill="#0000ff"/>
<rect x="747" y="304" width="1" height="17" fill="#ff0000"/>
<rect x="746" y="310" width="3" height="7" fill="#ff0000"/>
<rect x="750" y="306" width="1" height="12" fill="#ff0000"/>
<rect x="749" y="316" width="3" height="2" fill="#ff0000"/>
<rect x="754" y="314" width="1" height="12" fill="#ff0000"/>
<rect x="753" y="317" width="3" height="3" fill="#ff0000"/>
<rect x="757" y="298" width="1" height="21" fill="#0000ff"/>
<rect x="756" y="300" width="3" height="19" fill="#0000ff"/>
<rect x="760" y="289" width="1" height="13" fill="#0000ff"/>
<rect x="759" y="291" width="3" height="11" fill="#0000ff"/>
<rect x="764" y="286" width="1" height="20" fill="#ff0000"/>
<rect x="763" y="289" width="3" height="16" fill="#ff0000"/>
<rect x="767" y="290" width="1" height="18" fill="#0000ff"/>
<rect x="766" y="294" width="3" height="11" fill="#0000ff"/>
<rect x="770" y="283" width="1" height="18" fill="#0000ff"/>
<rect x="769" y="286" width="3" height="6" fill="#0000ff"/>
<rect x="774" y="281" width="1" height="35" fill="#ff0000"/>
<rect x="773" y="285" width="3" height="5" fill="#ff0000"/>
<rect x="777" y="262" width="1" height="32" fill="#0000ff"/>
<rect x="776" y="274" width="3" height="14" fill="#0000ff"/>
<rect x="780" y="270" width="1" height="39" fill="#ff0000"/>
<rect x="779" y="272" width="3" height="34" fill="#ff0000"/>
<rect x="784" y="285" width="1" height="22" fill="#0000ff"/>
<rect x="783" y="290" width="3" height="17" fill="#0000ff"/>
<rect x="787" y="284" width="1" height="29" fill="#ff0000"/>
<rect x="786" y="290" width="3" height="23" fill="#ff0000"/>
<rect x="790" y="288" width="1" height="26" fill="#0000ff"/>
<rect x="789" y="293" width="3" height="16" fill="#0000ff"/>
<rect x="794" y="273" width="1" height="21" fill="#0000ff"/>
<rect x="793" y="275" width="3" height="19" fill="#0000ff"/>
<rect x="797" y="269" width="1" height="25" fill="#ff0000"/>
<rect x="796" y="274" width="3" height="3" fill="#ff0000"/>
<rect x="800" y="273" width="1" height="32" fill="#ff0000"/>
<rect x="799" y="276" width="3" height="28" fill="#ff0000"/>
<rect x="804" y="293" width="1" height="12" fill="#0000ff"/>
<rect x="803" y="297" width="3" height="4" fill="#0000ff"/>
<rect x="807" y="288" width="1" height="15" fill="#ff0000"/>
<rect x="806" y="296" width="3" height="7" fill="#ff0000"/>
<rect x="811" y="292" width="1" height="17" fill="#0000ff"/>
<rect x="810" y="296" width="3" height="6" fill="#0000ff"/>
<rect x="814" y="293" width="1" height="18" fill="#ff0000"/>
<rect x="813" y="296" width="3" height="3" fill="#ff0000"/>
<rect x="817" y="284" width="1" height="15" fill="#0000ff"/>
<rect x="816" y="289" width="3" height="10" fill="#0000ff"/>
<rect x="821" y="287" width="1" height="15" fill="#ff0000"/>
<rect x="820" y="288" width="3" height="8" fill="#ff0000"/>
<rect x="824" y="285" width="1" height="15" fill="#ff0000"/>
<rect x="823" y="295" width="3" height="3" fill="#ff0000"/>
<rect x="827" y="271" width="1" height="31" fill="#0000ff"/>
<rect x="826" y="277" width="3" height="20" fill="#0000ff"/>
<rect x="831" y="259" width="1" height="22" fill="#0000ff"/>
<rect x="830" y="260" width="3" height="18" fill="#0000ff"/>
<rect x="834" y="256" width="1" height="11" fill="#ff0000"/>
<rect x="833" y="260" width="3" height="3" fill="#ff0000"/>
<rect x="837" y="239" width="1" height="24" fill="#0000ff"/>
<rect x="836" y="243" width="3" height="19" fill="#0000ff"/>
<rect x="841" y="230" width="1" height="19" fill="#0000ff"/>
<rect x="840" y="232" width="3" height="13" fill="#0000ff"/>
<rect x="844" y="217" width="1" height="21" fill="#0000ff"/>
<rect x="843" y="219" width="3" height="13" fill="#0000ff"/>
<rect x="847" y="190" width="1" height="34" fill="#0000ff"/>
<rect x="846" y="199" width="3" height="20" fill="#0000ff"/>
<rect x="851" y="163" width="1" height="39" fill="#0000ff"/>
<rect x="850" y="176" width="3" height="18" fill="#0000ff"/>
<rect x="854" y="171" width="1" height="33" fill="#ff0000"/>
<rect x="853" y="175" width="3" height="24" fill="#ff0000"/>
<rect x="857" y="167" width="1" height="30" fill="#0000ff"/>
<rect x="856" y="170" width="3" height="26" fill="#0000ff"/>
<rect x="861" y="124" width="1" height="58" fill="#0000ff"/>
<rect x="860" y="128" width="3" height="40" fill="#0000ff"/>
<rect x="864" y="77" width="1" height="70" fill="#ff0000"/>
<rect x="863" y="125" width="3" height="19" fill="#ff0000"/>
<rect x="867" y="115" width="1" height="47" fill="#0000ff"/>
<rect x="866" y="119" width="3" height="24" fill="#0000ff"/>
<rect x="871" y="104" width="1" height="29" fill="#ff0000"/>
<rect x="870" y="111" width="3" height="17" fill="#ff0000"/>
<rect x="874" y="74" width="1" height="58" fill="#0000ff"/>
<rect x="873" y="78" width="3" height="50" fill="#0000ff"/>
<rect x="877" y="50" width="1" height="53" fill="#ff0000"/>
<rect x="876" y="73" width="3" height="19" fill="#ff0000"/>
<rect x="881" y="65" width="1" height="31" fill="#0000ff"/>
<rect x="880" y="81" width="3" height="10" fill="#0000ff"/>
<rect x="884" y="72" width="1" height="15" fill="#0000ff"/>
<rect x="883" y="77" width="3" height="3" fill="#0000ff"/>
<rect x="887" y="45" width="1" height="42" fill="#0000ff"/>
<rect x="886" y="48" width="3" height="34" fill="#0000ff"/>
</g>
<g shape-rendering="crispEdges" fill="#8e1212">
<rect x="21" y="502" width="2" height="1"/>
<rect x="23" y="501" width="3" height="1"/>
<rect x="26" y="500" width="3" height="1"/>
<rect x="29" y="499" width="4" height="1"/>
<rect x="33" y="498" width="2" height="1"/>
<rect x="35" y="497" width="2" height="1"/>
<rect x="37" y="496" width="2" height="1"/>
<rect x="39" y="495" width="3" height="1"/>
<rect x="42" y="494" width="3" height="1"/>
<rect x="45" y="493" width="3" height="1"/>
<rect x="48" y="492" width="2" height="1"/>
<rect x="50" y="491" width="2" height="1"/>
<rect x="52" y="490" width="3" height="1"/>
<rect x="55" y="489" width="2" height="1"/>
<rect x="57" y="488" width="2" height="1"/>
<rect x="59" y="487" width="1" height="1"/>
<rect x="60" y="486" width="1" height="1"/>
<rect x="61" y="485" width="1" height="1"/>
<rect x="62" y="484" width="2" height="1"/>
<rect x="64" y="483" width="1" height="1"/>
<rect x="65" y="482" width="1" height="1"/>
<rect x="66" y="481" width="1" height="1"/>
<rect x="67" y="480" width="2" height="1"/>
<rect x="69" y="479" width="1" height="1"/>
<rect x="70" y="478" width="1" height="1"/>
<rect x="71" y="477" width="1" height="1"/>
<rect x="72" y="476" width="1" height="1"/>
<rect x="73" y="475" width="1" height="1"/>
<rect x="74" y="474" width="1" height="1"/>
<rect x="75" y="473" width="1" height="1"/>
<rect x="76" y="472" width="1" height="1"/>
<rect x="77" y="471" width="1" height="1"/>
<rect x="78" y="470" width="1" height="1"/>
<rect x="79" y="469" width="2" height="1"/>
<rect x="81" y="468" width="1" height="1"/>
<rect x="82" y="467" width="1" height="1"/>
<rect x="83" y="466" width="1" height="1"/>
<rect x="84" y="465" width="1" height="1"/>
<rect x="85" y="464" width="1" height="1"/>
<rect x="86" y="463" width="2" height="1"/>
<rect x="88" y="462" width="2" height="1"/>
<rect x="90" y="461" width="2" height="1"/>
<rect x="92" y="460" width="2" height="1"/>
<rect x="94" y="459" width="2" height="1"/>
<rect x="96" y="458" width="2" height="1"/>
<rect x="98" y="457" width="2" height="1"/>
<rect x="100" y="456" width="1" height="1"/>
<rect x="101" y="455" width="2" height="1"/>
<rect x="103" y="454" width="2" height="1"/>
<rect x="105" y="453" width="2" height="1"/>
<rect x="107" y="452" width="2" height="1"/>
<rect x="109" y="451" width="2" height="1"/>
<rect x="111" y="450" width="3" height="1"/>
<rect x="114" y="449" width="1" height="1"/>
<rect x="115" y="448" width="2" height="1"/>
<rect x="117" y="447" width="1" height="1"/>
<rect x="118" y="446" width="2" height="1"/>
<rect x="120" y="445" width="1" height="1"/>
<rect x="121" y="444" width="2" height="1"/>
<rect x="123" y="443" width="2" height="1"/>
<rect x="125" y="442" width="1" height="1"/>
<rect x="126" y="441" width="2" height="1"/>
<rect x="128" y="440" width="1" height="1"/>
<rect x="129" y="439" width="2" height="1"/>
<rect x="131" y="438" width="1" height="1"/>
<rect x="132" y="437" width="2" height="1"/>
<rect x="134" y="436" width="2" height="1"/>
<rect x="136" y="435" width="2" height="1"/>
<rect x="138" y="434" width="2" height="1"/>
<rect x="140" y="433" width="2" height="1"/>
<rect x="142" y="432" width="2" height="1"/>
<rect x="144" y="431" width="3" height="1"/>
<rect x="147" y="430" width="3" height="1"/>
<rect x="150" y="429" width="3" height="1"/>
<rect x="153" y="428" width="3" height="1"/>
<rect x="156" y="427" width="2" height="1"/>
<rect x="158" y="426" width="2" height="1"/>
<rect x="160" y="425" width="1" height="1"/>
<rect x="161" y="424" width="3" height="1"/>
<rect x="164" y="423" width="2" height="1"/>
<rect x="166" y="422" width="2" height="1"/>
<rect x="168" y="421" width="2" height="1"/>
<rect x="170" y="420" width="1" height="1"/>
<rect x="171" y="419" width="2" height="1"/>
<rect x="173" y="418" width="1" height="1"/>
<rect x="174" y="417" width="2" height="1"/>
<rect x="176" y="416" width="2" height="1"/>
<rect x="178" y="415" width="3" height="1"/>
<rect x="181" y="414" width="2" height="1"/>
<rect x="183" y="413" width="3" height="1"/>
<rect x="186" y="412" width="3" height="1"/>
<rect x="189" y="411" width="4" height="1"/>
<rect x="193" y="410" width="4" height="1"/>
<rect x="197" y="409" width="10" height="1"/>
<rect x="207" y="408" width="20" height="1"/>
<rect x="227" y="407" width="3" height="1"/>
<rect x="230" y="406" width="3" height="1"/>
<rect x="233" y="405" width="2" height="1"/>
<rect x="235" y="404" width="2" height="1"/>
<rect x="237" y="403" width="1" height="1"/>
<rect x="238" y="402" width="2" height="1"/>
<rect x="240" y="401" width="3" height="1"/>
<rect x="243" y="400" width="3" height="1"/>
<rect x="246" y="399" width="4" height="1"/>
<rect x="250" y="398" width="4" height="1"/>
<rect x="254" y="397" width="4" height="1"/>
<rect x="258" y="396" width="8" height="1"/>
<rect x="266" y="395" width="7" height="1"/>
<rect x="273" y="394" width="8" height="1"/>
<rect x="281" y="393" width="9" height="1"/>
<rect x="290" y="392" width="2" height="1"/>
<rect x="292" y="391" width="1" height="1"/>
<rect x="293" y="390" width="8" height="1"/>
<rect x="301" y="391" width="9" height="1"/>
<rect x="310" y="392" width="13" height="1"/>
<rect x="323" y="391" width="6" height="1"/>
<rect x="329" y="390" width="5" height="1"/>
<rect x="334" y="389" width="5" height="1"/>
<rect x="339" y="388" width="8" height="1"/>
<rect x="347" y="387" width="8" height="1"/>
<rect x="355" y="386" width="7" height="1"/>
<rect x="362" y="385" width="4" height="1"/>
<rect x="366" y="384" width="3" height="1"/>
<rect x="369" y="383" width="2" height="1"/>
<rect x="371" y="382" width="3" height="1"/>
<rect x="374" y="381" width="3" height="1"/>
<rect x="377" y="380" width="3" height="1"/>
<rect x="380" y="379" width="3" height="1"/>
<rect x="383" y="378" width="2" height="1"/>
<rect x="385" y="377" width="1" height="1"/>
<rect x="386" y="376" width="2" height="1"/>
<rect x="388" y="375" width="2" height="1"/>
<rect x="390" y="374" width="1" height="1"/>
<rect x="391" y="372" width="1" height="2"/>
<rect x="392" y="371" width="1" height="1"/>
<rect x="393" y="370" width="1" height="1"/>
<rect x="394" y="369" width="1" height="1"/>
<rect x="395" y="368" width="1" height="1"/>
<rect x="396" y="367" width="2" height="1"/>
<rect x="398" y="366" width="1" height="1"/>
<rect x="399" y="365" width="1" height="1"/>
<rect x="400" y="364" width="2" height="1"/>
<rect x="402" y="363" width="1" height="1"/>
<rect x="403" y="362" width="2" height="1"/>
<rect x="405" y="361" width="1" height="1"/>
<rect x="406" y="360" width="2" height="1"/>
<rect x="408" y="359" width="1" height="1"/>
<rect x="409" y="358" width="1" height="1"/>
<rect x="410" y="357" width="2" height="1"/>
<rect x="412" y="356" width="1" height="1"/>
<rect x="413" y="355" width="2" height="1"/>
<rect x="415" y="354" width="1" height="1"/>
<rect x="416" y="353" width="1" height="1"/>
<rect x="417" y="352" width="2" height="1"/>
<rect x="419" y="351" width="1" height="1"/>
<rect x="420" y="350" width="2" height="1"/>
<rect x="422" y="349" width="3" height="1"/>
<rect x="425" y="348" width="2" height="1"/>
<rect x="427" y="347" width="1" height="1"/>
<rect x="428" y="346" width="2" height="1"/>
<rect x="430" y="345" width="1" height="1"/>
<rect x="431" y="344" width="2" height="1"/>
<rect x="433" y="343" width="1" height="1"/>
<rect x="434" y="342" width="2" height="1"/>
<rect x="436" y="341" width="1" height="1"/>
<rect x="437" y="340" width="2" height="1"/>
<rect x="439" y="339" width="1" height="1"/>
<rect x="440" y="338" width="2" height="1"/>
<rect x="442" y="337" width="1" height="1"/>
<rect x="443" y="336" width="2" height="1"/>
<rect x="445" y="335" width="1" height="1"/>
<rect x="446" y="334" width="2" height="1"/>
<rect x="448" y="333" width="2" height="1"/>
<rect x="450" y="332" width="1" height="1"/>
<rect x="451" y="331" width="2" height="1"/>
<rect x="453" y="330" width="1" height="1"/>
<rect x="454" y="329" width="2" height="1"/>
<rect x="456" y="328" width="1" height="1"/>
<rect x="457" y="327" width="1" height="1"/>
<rect x="458" y="326" width="1" height="1"/>
<rect x="459" y="325" width="1" height="1"/>
<rect x="460" y="324" width="2" height="1"/>
<rect x="462" y="323" width="2" height="1"/>
<rect x="464" y="322" width="2" height="1"/>
<rect x="466" y="321" width="3" height="1"/>
<rect x="469" y="320" width="6" height="1"/>
<rect x="475" y="321" width="5" height="1"/>
<rect x="480" y="322" width="3" height="1"/>
<rect x="483" y="323" width="2" height="1"/>
<rect x="485" y="324" width="2" height="1"/>
<rect x="487" y="325" width="3" height="1"/>
<rect x="490" y="326" width="3" height="1"/>
<rect x="493" y="327" width="3" height="1"/>
<rect x="496" y="328" width="2" height="1"/>
<rect x="498" y="329" width="3" height="1"/>
<rect x="501" y="330" width="1" height="1"/>
<rect x="502" y="331" width="1" height="1"/>
<rect x="503" y="332" width="1" height="1"/>
<rect x="504" y="333" width="1" height="1"/>
<rect x="505" y="334" width="1" height="1"/>
<rect x="506" y="335" width="1" height="1"/>
<rect x="507" y="336" width="1" height="1"/>
<rect x="508" y="337" width="1" height="1"/>
<rect x="509" y="338" width="1" height="1"/>
<rect x="510" y="339" width="2" height="1"/>
<rect x="512" y="340" width="1" height="1"/>
<rect x="513" y="341" width="1" height="1"/>
<rect x="514" y="342" width="1" height="1"/>
<rect x="515" y="343" width="1" height="1"/>
<rect x="516" y="344" width="1" height="1"/>
<rect x="517" y="345" width="1" height="1"/>
<rect x="518" y="346" width="1" height="2"/>
<rect x="519" y="348" width="1" height="1"/>
<rect x="520" y="349" width="1" height="1"/>
<rect x="521" y="350" width="1" height="1"/>
<rect x="522" y="351" width="1" height="1"/>
<rect x="523" y="352" width="1" height="1"/>
<rect x="524" y="353" width="1" height="1"/>
<rect x="525" y="354" width="1" height="2"/>
<rect x="526" y="356" width="1" height="1"/>
<rect x="527" y="357" width="1" height="2"/>
<rect x="528" y="359" width="1" height="1"/>
<rect x="529" y="360" width="1" height="2"/>
<rect x="530" y="362" width="1" height="1"/>
<rect x="531" y="363" width="1" height="1"/>
<rect x="532" y="364" width="1" height="1"/>
<rect x="533" y="365" width="1" height="1"/>
<rect x="534" y="366" width="1" height="2"/>
<rect x="535" y="368" width="1" height="1"/>
<rect x="536" y="369" width="1" height="1"/>
<rect x="537" y="370" width="1" height="1"/>
<rect x="538" y="371" width="1" height="1"/>
<rect x="539" y="372" width="1" height="1"/>
<rect x="540" y="373" width="1" height="1"/>
<rect x="541" y="374" width="1" height="1"/>
<rect x="542" y="375" width="1" height="1"/>
<rect x="543" y="376" width="1" height="1"/>
<rect x="544" y="377" width="1" height="1"/>
<rect x="545" y="378" width="2" height="1"/>
<rect x="547" y="379" width="1" height="1"/>
<rect x="548" y="380" width="1" height="1"/>
<rect x="549" y="381" width="1" height="1"/>
<rect x="550" y="382" width="1" height="1"/>
<rect x="551" y="383" width="2" height="1"/>
<rect x="553" y="384" width="1" height="1"/>
<rect x="554" y="385" width="2" height="1"/>
<rect x="556" y="386" width="1" height="1"/>
<rect x="557" y="387" width="2" height="1"/>
<rect x="559" y="388" width="2" height="1"/>
<rect x="561" y="389" width="2" height="1"/>
<rect x="563" y="390" width="1" height="1"/>
<rect x="564" y="391" width="2" height="1"/>
<rect x="566" y="392" width="2" height="1"/>
<rect x="568" y="393" width="2" height="1"/>
<rect x="570" y="394" width="1" height="1"/>
<rect x="571" y="395" width="2" height="1"/>
<rect x="573" y="396" width="2" height="1"/>
<rect x="575" y="397" width="2" height="1"/>
<rect x="577" y="398" width="2" height="1"/>
<rect x="579" y="399" width="2" height="1"/>
<rect x="581" y="400" width="1" height="1"/>
<rect x="582" y="401" width="2" height="1"/>
<rect x="584" y="402" width="1" height="1"/>
<rect x="585" y="403" width="2" height="1"/>
<rect x="587" y="404" width="1" height="1"/>
<rect x="588" y="405" width="2" height="1"/>
<rect x="590" y="406" width="1" height="1"/>
<rect x="591" y="407" width="1" height="1"/>
<rect x="592" y="408" width="1" height="1"/>
<rect x="593" y="409" width="2" height="1"/>
<rect x="595" y="410" width="1" height="1"/>
<rect x="596" y="411" width="2" height="1"/>
<rect x="598" y="412" width="1" height="1"/>
<rect x="599" y="413" width="2" height="1"/>
<rect x="601" y="414" width="5" height="1"/>
<rect x="606" y="415" width="5" height="1"/>
<rect x="611" y="414" width="3" height="1"/>
<rect x="614" y="413" width="3" height="1"/>
<rect x="617" y="412" width="4" height="1"/>
<rect x="621" y="411" width="4" height="1"/>
<rect x="625" y="410" width="8" height="1"/>
<rect x="633" y="409" width="2" height="1"/>
<rect x="635" y="408" width="2" height="1"/>
<rect x="637" y="407" width="2" height="1"/>
<rect x="639" y="406" width="1" height="1"/>
<rect x="640" y="405" width="2" height="1"/>
<rect x="642" y="404" width="1" height="1"/>
<rect x="643" y="403" width="2" height="1"/>
<rect x="645" y="402" width="1" height="1"/>
<rect x="646" y="401" width="2" height="1"/>
<rect x="648" y="400" width="2" height="1"/>
<rect x="650" y="399" width="1" height="1"/>
<rect x="651" y="398" width="2" height="1"/>
<rect x="653" y="397" width="1" height="1"/>
<rect x="654" y="396" width="1" height="1"/>
<rect x="655" y="395" width="1" height="1"/>
<rect x="656" y="394" width="2" height="1"/>
<rect x="658" y="393" width="1" height="1"/>
<rect x="659" y="392" width="1" height="1"/>
<rect x="660" y="391" width="1" height="1"/>
<rect x="661" y="389" width="1" height="2"/>
<rect x="662" y="388" width="1" height="1"/>
<rect x="663" y="387" width="1" height="1"/>
<rect x="664" y="386" width="1" height="1"/>
<rect x="665" y="385" width="2" height="1"/>
<rect x="667" y="384" width="1" height="1"/>
<rect x="668" y="383" width="2" height="1"/>
<rect x="670" y="382" width="1" height="1"/>
<rect x="671" y="381" width="1" height="1"/>
<rect x="672" y="380" width="1" height="1"/>
<rect x="673" y="379" width="1" height="1"/>
<rect x="674" y="378" width="1" height="1"/>
<rect x="675" y="377" width="1" height="1"/>
<rect x="676" y="376" width="1" height="1"/>
<rect x="677" y="375" width="1" height="1"/>
<rect x="678" y="374" width="1" height="1"/>
<rect x="679" y="373" width="1" height="1"/>
<rect x="680" y="372" width="1" height="1"/>
<rect x="681" y="371" width="2" height="1"/>
<rect x="683" y="370" width="1" height="1"/>
<rect x="684" y="369" width="2" height="1"/>
<rect x="686" y="368" width="1" height="1"/>
<rect x="687" y="367" width="1" height="1"/>
<rect x="688" y="366" width="1" height="1"/>
<rect x="689" y="365" width="2" height="1"/>
<rect x="691" y="364" width="1" height="1"/>
<rect x="692" y="363" width="1" height="1"/>
<rect x="693" y="362" width="2" height="1"/>
<rect x="695" y="361" width="1" height="1"/>
<rect x="696" y="360" width="1" height="1"/>
<rect x="697" y="359" width="1" height="1"/>
<rect x="698" y="358" width="2" height="1"/>
<rect x="700" y="357" width="1" height="1"/>
<rect x="701" y="356" width="1" height="1"/>
<rect x="702" y="355" width="2" height="1"/>
<rect x="704" y="354" width="2" height="1"/>
<rect x="706" y="353" width="2" height="1"/>
<rect x="708" y="352" width="2" height="1"/>
<rect x="710" y="351" width="2" height="1"/>
<rect x="712" y="350" width="2" height="1"/>
<rect x="714" y="349" width="1" height="1"/>
<rect x="715" y="348" width="2" height="1"/>
<rect x="717" y="347" width="1" height="1"/>
<rect x="718" y="346" width="1" height="1"/>
<rect x="719" y="345" width="1" height="1"/>
<rect x="720" y="344" width="2" height="1"/>
<rect x="722" y="343" width="1" height="1"/>
<rect x="723" y="342" width="1" height="1"/>
<rect x="724" y="341" width="2" height="1"/>
<rect x="726" y="340" width="2" height="1"/>
<rect x="728" y="339" width="1" height="1"/>
<rect x="729" y="338" width="2" height="1"/>
<rect x="731" y="337" width="4" height="1"/>
<rect x="735" y="336" width="4" height="1"/>
<rect x="739" y="335" width="3" height="1"/>
<rect x="742" y="334" width="3" height="1"/>
<rect x="745" y="333" width="4" height="1"/>
<rect x="749" y="332" width="4" height="1"/>
<rect x="753" y="331" width="2" height="1"/>
<rect x="755" y="330" width="2" height="1"/>
<rect x="757" y="329" width="2" height="1"/>
<rect x="759" y="328" width="1" height="1"/>
<rect x="760" y="327" width="2" height="1"/>
<rect x="762" y="326" width="1" height="1"/>
<rect x="763" y="325" width="1" height="1"/>
<rect x="764" y="324" width="2" height="1"/>
<rect x="766" y="323" width="2" height="1"/>
<rect x="768" y="322" width="1" height="1"/>
<rect x="769" y="321" width="2" height="1"/>
<rect x="771" y="320" width="1" height="1"/>
<rect x="772" y="319" width="1" height="1"/>
<rect x="773" y="318" width="2" height="1"/>
<rect x="775" y="317" width="2" height="1"/>
<rect x="777" y="316" width="1" height="1"/>
<rect x="778" y="315" width="2" height="1"/>
<rect x="780" y="314" width="2" height="1"/>
<rect x="782" y="313" width="2" height="1"/>
<rect x="784" y="312" width="1" height="1"/>
<rect x="785" y="311" width="2" height="1"/>
<rect x="787" y="310" width="2" height="1"/>
<rect x="789" y="309" width="2" height="1"/>
<rect x="791" y="308" width="2" height="1"/>
<rect x="793" y="307" width="2" height="1"/>
<rect x="795" y="306" width="6" height="1"/>
<rect x="801" y="305" width="6" height="1"/>
<rect x="807" y="304" width="10" height="1"/>
<rect x="817" y="303" width="6" height="1"/>
<rect x="823" y="302" width="4" height="1"/>
<rect x="827" y="301" width="7" height="1"/>
<rect x="834" y="300" width="4" height="1"/>
<rect x="838" y="299" width="2" height="1"/>
<rect x="840" y="298" width="2" height="1"/>
<rect x="842" y="297" width="1" height="1"/>
<rect x="843" y="296" width="1" height="1"/>
<rect x="844" y="295" width="2" height="1"/>
<rect x="846" y="294" width="1" height="1"/>
<rect x="847" y="293" width="1" height="1"/>
<rect x="848" y="292" width="1" height="1"/>
<rect x="849" y="291" width="2" height="1"/>
<rect x="851" y="290" width="1" height="1"/>
<rect x="852" y="289" width="2" height="1"/>
<rect x="854" y="288" width="1" height="1"/>
<rect x="855" y="287" width="1" height="1"/>
<rect x="856" y="286" width="1" height="1"/>
<rect x="857" y="285" width="1" height="1"/>
<rect x="858" y="284" width="1" height="1"/>
<rect x="859" y="283" width="1" height="1"/>
<rect x="860" y="282" width="1" height="1"/>
<rect x="861" y="281" width="1" height="1"/>
<rect x="862" y="279" width="1" height="2"/>
<rect x="863" y="277" width="1" height="2"/>
<rect x="864" y="276" width="1" height="1"/>
<rect x="865" y="274" width="1" height="2"/>
<rect x="866" y="272" width="1" height="2"/>
<rect x="867" y="270" width="1" height="2"/>
<rect x="868" y="269" width="1" height="1"/>
<rect x="869" y="267" width="1" height="2"/>
<rect x="870" y="265" width="1" height="2"/>
<rect x="871" y="263" width="1" height="2"/>
<rect x="872" y="261" width="1" height="2"/>
<rect x="873" y="260" width="1" height="1"/>
<rect x="874" y="258" width="1" height="2"/>
<rect x="875" y="256" width="1" height="2"/>
<rect x="876" y="254" width="1" height="2"/>
<rect x="877" y="253" width="1" height="1"/>
<rect x="878" y="251" width="1" height="2"/>
<rect x="879" y="249" width="1" height="2"/>
<rect x="880" y="247" width="1" height="2"/>
<rect x="881" y="246" width="1" height="1"/>
<rect x="882" y="245" width="1" height="1"/>
<rect x="883" y="243" width="1" height="2"/>
<rect x="884" y="241" width="1" height="2"/>
<rect x="885" y="240" width="1" height="1"/>
<rect x="886" y="238" width="1" height="2"/>
<rect x="887" y="236" width="1" height="2"/>
<rect x="888" y="236" width="1" height="1"/>
</g>
<g shape-rendering="crispEdges" fill="#000">
<rect x="18" y="22" width="879" height="1"/>
<rect x="18" y="525" width="879" height="1"/>
<rect x="18" y="22" width="1" height="504"/>
<rect x="896" y="22" width="1" height="504"/>
<rect x="16" y="24" width="2" height="1"/>
<rect x="897" y="24" width="2" height="1"/>
<rect x="16" y="34" width="2" height="1"/>
<rect x="897" y="34" width="2" height="1"/>
<rect x="16" y="43" width="2" height="1"/>
<rect x="897" y="43" width="2" height="1"/>
<rect x="16" y="53" width="2" height="1"/>
<rect x="897" y="53" width="2" height="1"/>
<rect x="16" y="73" width="2" height="1"/>
<rect x="897" y="73" width="2" height="1"/>
<rect x="16" y="83" width="2" height="1"/>
<rect x="897" y="83" width="2" height="1"/>
<rect x="16" y="92" width="2" height="1"/>
<rect x="897" y="92" width="2" height="1"/>
<rect x="16" y="102" width="2" height="1"/>
<rect x="897" y="102" width="2" height="1"/>
<rect x="16" y="111" width="2" height="1"/>
<rect x="897" y="111" width="2" height="1"/>
<rect x="16" y="121" width="2" height="1"/>
<rect x="897" y="121" width="2" height="1"/>
<rect x="16" y="131" width="2" height="1"/>
<rect x="897" y="131" width="2" height="1"/>
<rect x="16" y="140" width="2" height="1"/>
<rect x="897" y="140" width="2" height="1"/>
<rect x="16" y="150" width="2" height="1"/>
<rect x="897" y="150" width="2" height="1"/>
<rect x="16" y="171" width="2" height="1"/>
<rect x="897" y="171" width="2" height="1"/>
<rect x="16" y="181" width="2" height="1"/>
<rect x="897" y="181" width="2" height="1"/>
<rect x="16" y="190" width="2" height="1"/>
<rect x="897" y="190" width="2" height="1"/>
<rect x="16" y="200" width="2" height="1"/>
<rect x="897" y="200" width="2" height="1"/>
<rect x="16" y="209" width="2" height="1"/>
<rect x="897" y="209" width="2" height="1"/>
<rect x="16" y="219" width="2" height="1"/>
<rect x="897" y="219" width="2" height="1"/>
<rect x="16" y="229" width="2" height="1"/>
<rect x="897" y="229" width="2" height="1"/>
<rect x="16" y="238" width="2" height="1"/>
<rect x="897" y="238" width="2" height="1"/>
<rect x="16" y="248" width="2" height="1"/>
<rect x="897" y="248" width="2" height="1"/>
<rect x="16" y="268" width="2" height="1"/>
<rect x="897" y="268" width="2" height="1"/>
<rect x="16" y="278" width="2" height="1"/>
<rect x="897" y="278" width="2" height="1"/>
<rect x="16" y="287" width="2" height="1"/>
<rect x="897" y="287" width="2" height="1"/>
<rect x="16" y="297" width="2" height="1"/>
<rect x="897" y="297" width="2" height="1"/>
<rect x="16" y="306" width="2" height="1"/>
<rect x="897" y="306" width="2" height="1"/>
<rect x="16" y="316" width="2" height="1"/>
<rect x="897" y="316" width="2" height="1"/>
<rect x="16" y="326" width="2" height="1"/>
<rect x="897" y="326" width="2" height="1"/>
<rect x="16" y="335" width="2" height="1"/>
<rect x="897" y="335" width="2" height="1"/>
<rect x="16" y="345" width="2" height="1"/>
<rect x="897" y="345" width="2" height="1"/>
<rect x="16" y="365" width="2" height="1"/>
<rect x="897" y="365" width="2" height="1"/>
<rect x="16" y="375" width="2" height="1"/>
<rect x="897" y="375" width="2" height="1"/>
<rect x="16" y="384" width="2" height="1"/>
<rect x="897" y="384" width="2" height="1"/>
<rect x="16" y="394" width="2" height="1"/>
<rect x="897" y="394" width="2" height="1"/>
<rect x="16" y="403" width="2" height="1"/>
<rect x="897" y="403" width="2" height="1"/>
<rect x="16" y="413" width="2" height="1"/>
<rect x="897" y="413" width="2" height="1"/>
<rect x="16" y="423" width="2" height="1"/>
<rect x="897" y="423" width="2" height="1"/>
<rect x="16" y="432" width="2" height="1"/>
<rect x="897" y="432" width="2" height="1"/>
<rect x="16" y="442" width="2" height="1"/>
<rect x="897" y="442" width="2" height="1"/>
<rect x="16" y="463" width="2" height="1"/>
<rect x="897" y="463" width="2" height="1"/>
<rect x="16" y="473" width="2" height="1"/>
<rect x="897" y="473" width="2" height="1"/>
<rect x="16" y="482" width="2" height="1"/>
<rect x="897" y="482" width="2" height="1"/>
<rect x="16" y="492" width="2" height="1"/>
<rect x="897" y="492" width="2" height="1"/>
<rect x="16" y="501" width="2" height="1"/>
<rect x="897" y="501" width="2" height="1"/>
<rect x="16" y="511" width="2" height="1"/>
<rect x="897" y="511" width="2" height="1"/>
<rect x="16" y="521" width="2" height="1"/>
<rect x="897" y="521" width="2" height="1"/>
<rect x="16" y="64" width="2" height="1"/>
<rect x="897" y="64" width="2" height="1"/>
<rect x="16" y="162" width="2" height="1"/>
<rect x="897" y="162" width="2" height="1"/>
<rect x="16" y="259" width="2" height="1"/>
<rect x="897" y="259" width="2" height="1"/>
<rect x="16" y="356" width="2" height="1"/>
<rect x="897" y="356" width="2" height="1"/>
<rect x="16" y="454" width="2" height="1"/>
<rect x="897" y="454" width="2" height="1"/>
<rect x="58" y="526" width="1" height="3"/>
<rect x="102" y="526" width="1" height="3"/>
<rect x="146" y="526" width="1" height="3"/>
<rect x="189" y="526" width="1" height="3"/>
<rect x="233" y="526" width="1" height="3"/>
<rect x="276" y="526" width="1" height="3"/>
<rect x="319" y="526" width="1" height="3"/>
<rect x="363" y="526" width="1" height="3"/>
<rect x="407" y="526" width="1" height="3"/>
<rect x="450" y="526" width="1" height="3"/>
<rect x="495" y="526" width="1" height="3"/>
<rect x="539" y="526" width="1" height="3"/>
<rect x="582" y="526" width="1" height="3"/>
<rect x="625" y="526" width="1" height="3"/>
<rect x="669" y="526" width="1" height="3"/>
<rect x="713" y="526" width="1" height="3"/>
<rect x="756" y="526" width="1" height="3"/>
<rect x="800" y="526" width="1" height="3"/>
<rect x="844" y="526" width="1" height="3"/>
<rect x="888" y="526" width="1" height="3"/>
<rect x="72" y="526" width="1" height="1"/>
<rect x="87" y="526" width="1" height="1"/>
<rect x="116" y="526" width="1" height="1"/>
<rect x="131" y="526" width="1" height="1"/>
<rect x="160" y="526" width="1" height="1"/>
<rect x="174" y="526" width="1" height="1"/>
<rect x="204" y="526" width="1" height="1"/>
<rect x="217" y="526" width="1" height="1"/>
<rect x="247" y="526" width="1" height="1"/>
<rect x="261" y="526" width="1" height="1"/>
<rect x="290" y="526" width="1" height="1"/>
<rect x="304" y="526" width="1" height="1"/>
<rect x="333" y="526" width="1" height="1"/>
<rect x="348" y="526" width="1" height="1"/>
<rect x="377" y="526" width="1" height="1"/>
<rect x="392" y="526" width="1" height="1"/>
<rect x="421" y="526" width="1" height="1"/>
<rect x="435" y="526" width="1" height="1"/>
<rect x="465" y="526" width="1" height="1"/>
<rect x="480" y="526" width="1" height="1"/>
<rect x="509" y="526" width="1" height="1"/>
<rect x="524" y="526" width="1" height="1"/>
<rect x="553" y="526" width="1" height="1"/>
<rect x="567" y="526" width="1" height="1"/>
<rect x="596" y="526" width="1" height="1"/>
<rect x="610" y="526" width="1" height="1"/>
<rect x="639" y="526" width="1" height="1"/>
<rect x="654" y="526" width="1" height="1"/>
<rect x="683" y="526" width="1" height="1"/>
<rect x="698" y="526" width="1" height="1"/>
<rect x="727" y="526" width="1" height="1"/>
<rect x="741" y="526" width="1" height="1"/>
<rect x="770" y="526" width="1" height="1"/>
<rect x="785" y="526" width="1" height="1"/>
<rect x="814" y="526" width="1" height="1"/>
<rect x="829" y="526" width="1" height="1"/>
<rect x="858" y="526" width="1" height="1"/>
<rect x="873" y="526" width="1" height="1"/>
<rect x="29" y="526" width="1" height="1"/>
<rect x="43" y="526" width="1" height="1"/>
</g>
<g font-family="Liberation Sans, Arial, sans-serif" font-size="14px" fill="#000" stroke="#fff" stroke-width="0.12" paint-order="fill stroke" style="will-change:transform;paint-order:fill stroke" filter="url(#gs)">
<text y="13.7"><tspan x="18.01" textLength="35.74" lengthAdjust="spacing">Silver</tspan> <tspan x="57.83" textLength="31.81" lengthAdjust="spacing">CMX</tspan> <tspan x="93.86" textLength="17.96" lengthAdjust="spacing">1st</tspan> <tspan x="118.00" textLength="37.82" lengthAdjust="spacing">Month</tspan> <tspan x="160.33" textLength="79.31" lengthAdjust="spacing">Continuation</tspan> <tspan x="245.39" textLength="30.38" lengthAdjust="spacing">(SI1)</tspan> <tspan x="280.50" textLength="42.73" lengthAdjust="spacing">30.855</tspan> <tspan x="328.22" textLength="36.53" lengthAdjust="spacing" fill="#0000ff">+0.34</tspan></text>
<text x="647.5" y="13.7" textLength="145" lengthAdjust="spacing">www.fullermoney.com</text>
<text y="13.7"><tspan x="813.50" textLength="14.74" lengthAdjust="spacing">31</tspan> <tspan x="833.50" textLength="26.00" lengthAdjust="spacing">Dec</tspan> <tspan x="864.44" textLength="31.06" lengthAdjust="spacing">2010</tspan></text>
<text x="22.04" y="40" textLength="46.25" lengthAdjust="spacing" fill="#0000ff">Weekly</text>
<text x="21.97" y="57" textLength="47.76" lengthAdjust="spacing" fill="#a52222">MA 200</text>
<text x="57.8" y="540" text-anchor="middle">Apr</text>
<text x="101.4" y="540" text-anchor="middle">Jul</text>
<text x="146.3" y="540" text-anchor="middle">Oct</text>
<text x="191.1" y="540" text-anchor="middle">2007</text>
<text x="232.8" y="540" text-anchor="middle">Apr</text>
<text x="275.4" y="540" text-anchor="middle">Jul</text>
<text x="319.3" y="540" text-anchor="middle">Oct</text>
<text x="365.1" y="540" text-anchor="middle">2008</text>
<text x="406.8" y="540" text-anchor="middle">Apr</text>
<text x="449.4" y="540" text-anchor="middle">Jul</text>
<text x="495.3" y="540" text-anchor="middle">Oct</text>
<text x="541.1" y="540" text-anchor="middle">2009</text>
<text x="581.8" y="540" text-anchor="middle">Apr</text>
<text x="624.4" y="540" text-anchor="middle">Jul</text>
<text x="669.3" y="540" text-anchor="middle">Oct</text>
<text x="715.1" y="540" text-anchor="middle">2010</text>
<text x="755.8" y="540" text-anchor="middle">Apr</text>
<text x="799.4" y="540" text-anchor="middle">Jul</text>
<text x="844.3" y="540" text-anchor="middle">Oct</text>
<text x="889.2" y="540" text-anchor="middle">2011</text>
<text x="900" y="70">30</text>
<text x="900" y="168">25</text>
<text x="900" y="265">20</text>
<text x="900" y="362">15</text>
<text x="900" y="460">10</text>
</g>
<text x="760.05" y="555" textLength="135.45" lengthAdjust="spacing" font-family="Liberation Sans, Arial, sans-serif" font-size="9.8px" fill="#8a8a8a" filter="url(#gs)">© 2010 Stockcube Research Ltd</text>
</svg>
</body></html>
